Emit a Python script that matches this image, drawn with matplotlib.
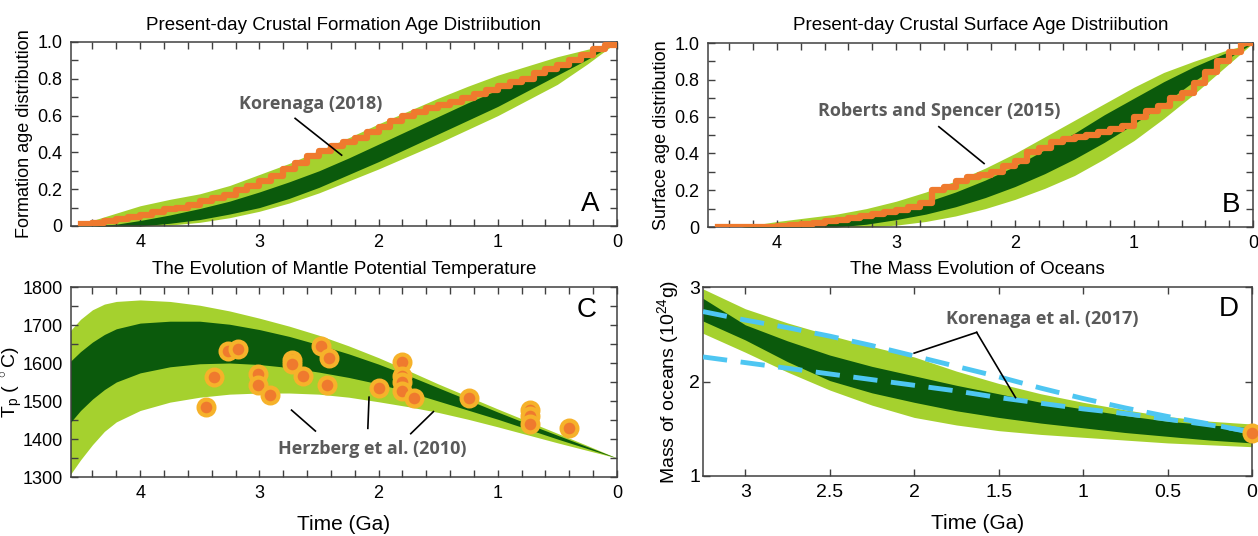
import numpy as np
import matplotlib
matplotlib.use("Agg")
import matplotlib.pyplot as plt
from matplotlib.ticker import MultipleLocator

plt.rcParams['font.family'] = ['Liberation Sans', 'DejaVu Sans']
plt.rcParams['mathtext.fontset'] = 'custom'
plt.rcParams['mathtext.rm'] = 'Liberation Sans'

LIGHT = "#a5d12e"
DARK = "#0b5a0c"
ORANGE = "#ef7a2e"
GOLD = "#f6b22a"
BLUE = "#4ec6f2"
NOTE = "#5a5a5a"

# ---- A: crustal formation age distribution
a_age = [4.55, 4.4, 4.2, 4.0, 3.75, 3.5, 3.25, 3.0, 2.75, 2.5, 2.25, 2.0, 1.75, 1.5, 1.25, 1.0, 0.75, 0.5, 0.25, 0.0]
a_light_hi = [0.0, 0.03, 0.07, 0.11, 0.145, 0.175, 0.22, 0.28, 0.34, 0.41, 0.48, 0.555, 0.625, 0.695, 0.76, 0.82, 0.87, 0.92, 0.96, 1.0]
a_light_lo = [0.0, 0.0, 0.0, 0.0, 0.005, 0.02, 0.045, 0.08, 0.125, 0.18, 0.245, 0.31, 0.38, 0.45, 0.525, 0.60, 0.685, 0.77, 0.88, 1.0]
a_dark_hi = [0.0, 0.0, 0.01, 0.03, 0.06, 0.095, 0.135, 0.185, 0.24, 0.30, 0.37, 0.445, 0.52, 0.595, 0.67, 0.74, 0.81, 0.875, 0.94, 1.0]
a_dark_lo = [0.0, 0.0, 0.0, 0.0, 0.015, 0.035, 0.065, 0.10, 0.15, 0.21, 0.28, 0.35, 0.425, 0.50, 0.575, 0.65, 0.735, 0.82, 0.905, 1.0]

a_step_age = [4.5, 4.4, 4.3, 4.2, 4.1, 4.0, 3.9, 3.8, 3.7, 3.6, 3.5, 3.4, 3.3, 3.2, 3.1, 3.0, 2.9, 2.8, 2.7, 2.6,
              2.5, 2.4, 2.3, 2.2, 2.1, 2.0, 1.9, 1.8, 1.7, 1.6, 1.5, 1.4, 1.3, 1.2, 1.1, 1.0, 0.9, 0.8, 0.7, 0.6,
              0.5, 0.4, 0.3, 0.2, 0.1, 0.0]
a_step_val = [0.01, 0.015, 0.025, 0.04, 0.05, 0.06, 0.075, 0.09, 0.10, 0.115, 0.135, 0.15, 0.17, 0.195, 0.22, 0.245, 0.27, 0.31, 0.34, 0.38,
              0.41, 0.435, 0.455, 0.48, 0.51, 0.54, 0.57, 0.60, 0.62, 0.64, 0.655, 0.675, 0.695, 0.715, 0.74, 0.76, 0.78, 0.80, 0.83, 0.855,
              0.875, 0.90, 0.93, 0.96, 0.985, 1.0]

# ---- B: crustal surface age distribution
b_age = [4.55, 4.3, 4.0, 3.75, 3.5, 3.25, 3.0, 2.75, 2.5, 2.25, 2.0, 1.75, 1.5, 1.25, 1.0, 0.75, 0.5, 0.25, 0.0]
b_light_hi = [0.0, 0.0, 0.03, 0.05, 0.07, 0.10, 0.14, 0.19, 0.25, 0.32, 0.40, 0.49, 0.58, 0.67, 0.76, 0.84, 0.90, 0.955, 1.0]
b_light_lo = [0.0, 0.0, 0.0, 0.0, 0.0, 0.0, 0.01, 0.03, 0.06, 0.10, 0.15, 0.21, 0.28, 0.37, 0.47, 0.59, 0.72, 0.86, 1.0]
b_dark_hi = [0.0, 0.0, 0.01, 0.02, 0.04, 0.06, 0.09, 0.135, 0.19, 0.255, 0.33, 0.42, 0.51, 0.61, 0.70, 0.79, 0.87, 0.94, 1.0]
b_dark_lo = [0.0, 0.0, 0.0, 0.0, 0.0, 0.015, 0.04, 0.07, 0.11, 0.16, 0.22, 0.29, 0.37, 0.46, 0.56, 0.67, 0.79, 0.90, 1.0]

b_step_age = a_step_age
b_step_val = [0.0, 0.0, 0.0, 0.0, 0.0, 0.005, 0.01, 0.015, 0.02, 0.03, 0.04, 0.05, 0.06, 0.07, 0.08, 0.09, 0.11, 0.13, 0.20, 0.22,
              0.25, 0.27, 0.285, 0.30, 0.33, 0.36, 0.41, 0.43, 0.46, 0.48, 0.49, 0.50, 0.515, 0.53, 0.55, 0.60, 0.63, 0.66, 0.70, 0.73,
              0.78, 0.84, 0.90, 0.95, 1.0, 1.0]

# ---- C: mantle potential temperature
c_age = [4.6, 4.5, 4.4, 4.3, 4.2, 4.0, 3.75, 3.5, 3.25, 3.0, 2.75, 2.5, 2.25, 2.0, 1.75, 1.5, 1.25, 1.0, 0.75, 0.5, 0.25, 0.0]
c_light_hi = [1680, 1715, 1740, 1755, 1762, 1766, 1762, 1752, 1737, 1718, 1697, 1673, 1645, 1614, 1580, 1545, 1512, 1479, 1447, 1415, 1383, 1350]
c_light_lo = [1300, 1345, 1385, 1420, 1445, 1475, 1497, 1510, 1518, 1521, 1521, 1518, 1510, 1498, 1485, 1470, 1452, 1432, 1411, 1390, 1370, 1350]
c_dark_hi = [1600, 1630, 1655, 1675, 1690, 1705, 1710, 1710, 1702, 1688, 1670, 1648, 1624, 1597, 1567, 1535, 1503, 1471, 1440, 1410, 1380, 1350]
c_dark_lo = [1438, 1475, 1505, 1530, 1550, 1574, 1590, 1598, 1600, 1596, 1588, 1576, 1562, 1545, 1524, 1500, 1476, 1452, 1426, 1400, 1375, 1350]

herz_age = [3.45, 3.38, 3.26, 3.18, 3.01, 3.01, 2.91, 2.73, 2.73, 2.63, 2.48, 2.42, 2.43, 2.00,
            1.80, 1.80, 1.80, 1.80, 1.70, 1.24, 0.73, 0.73, 0.73, 0.40]
herz_tp = [1485, 1563, 1632, 1636, 1570, 1541, 1517, 1609, 1598, 1565, 1645, 1614, 1543, 1535,
           1603, 1565, 1550, 1527, 1508, 1508, 1476, 1461, 1439, 1430]

# ---- D: mass of oceans
d_age = [3.25, 3.0, 2.75, 2.5, 2.25, 2.0, 1.75, 1.5, 1.25, 1.0, 0.75, 0.5, 0.25, 0.0]
d_light_hi = [2.98, 2.77, 2.62, 2.49, 2.37, 2.26, 2.11, 1.98, 1.87, 1.78, 1.70, 1.63, 1.58, 1.55]
d_light_lo = [2.51, 2.31, 2.10, 1.91, 1.75, 1.62, 1.54, 1.48, 1.44, 1.41, 1.38, 1.35, 1.33, 1.31]
d_dark_hi = [2.88, 2.60, 2.43, 2.28, 2.16, 2.06, 1.96, 1.87, 1.78, 1.71, 1.64, 1.58, 1.54, 1.51]
d_dark_lo = [2.64, 2.44, 2.21, 2.01, 1.88, 1.78, 1.69, 1.62, 1.56, 1.51, 1.46, 1.42, 1.38, 1.35]
kor_hi = [2.74, 2.65, 2.57, 2.48, 2.38, 2.27, 2.16, 2.05, 1.93, 1.82, 1.72, 1.63, 1.55, 1.46]
kor_lo = [2.26, 2.20, 2.14, 2.08, 2.02, 1.96, 1.90, 1.83, 1.77, 1.71, 1.66, 1.60, 1.54, 1.47]
d_now_age = [0.0]
d_now_mass = [1.46]


def style_axes(ax, size=13, pad=6):
    for s in ax.spines.values():
        s.set_color("#404040")
        s.set_linewidth(1.1)
    ax.tick_params(which="both", direction="in", top=True, right=True,
                   length=5, width=1.0, color="#404040", labelsize=size, pad=pad)
    ax.tick_params(which="major", labeltop=False, labelright=False)


def band(ax, x, lh, ll, dh, dl):
    ax.fill_between(x, ll, lh, color=LIGHT, lw=0, zorder=1)
    ax.fill_between(x, dl, dh, color=DARK, lw=0, zorder=2)


def note(ax, text, xy_text, lines):
    ax.text(xy_text[0], xy_text[1], text, color=NOTE, fontsize=13, fontweight="bold",
            family=["Open Sans", "DejaVu Sans"], ha="center", va="center", zorder=6)
    for (x0, y0), (x1, y1) in lines:
        ax.plot([x0, x1], [y0, y1], color="black", lw=1.2, zorder=6)


fig = plt.figure(figsize=(12.58, 5.36), dpi=100)
W, H = 1258, 536


def add_ax(l, t, r, b):
    return fig.add_axes([l / W, 1 - b / H, (r - l) / W, (b - t) / H])


axA = add_ax(71, 42, 617, 226)
axB = add_ax(708, 43, 1253, 227)
axC = add_ax(71, 287, 617, 477)
axD = add_ax(703, 287, 1252, 476)

# A
band(axA, a_age, a_light_hi, a_light_lo, a_dark_hi, a_dark_lo)
axA.step(a_step_age, a_step_val, where="post", color=ORANGE, lw=4.5, zorder=4)
axA.set_xlim(4.58, 0)
axA.set_ylim(0, 1.0)
axA.xaxis.set_major_locator(MultipleLocator(1))
axA.xaxis.set_minor_locator(MultipleLocator(0.2))
axA.yaxis.set_minor_locator(MultipleLocator(0.1))
axA.set_yticks([0, 0.2, 0.4, 0.6, 0.8, 1.0], ["0", "0.2", "0.4", "0.6", "0.8", "1.0"])
axA.set_ylabel("Formation age distribution", fontsize=13)
axA.yaxis.set_label_coords(-0.07, 0.5)
axA.set_title("Present-day Crustal Formation Age Distriibution", fontsize=13.5, pad=9)
axA.text(0.95, 0.12, "A", transform=axA.transAxes, fontsize=20, ha="center", va="center")
note(axA, "Korenaga (2018)", (2.57, 0.665), [((2.70, 0.585), (2.31, 0.385))])
style_axes(axA)

# B
band(axB, b_age, b_light_hi, b_light_lo, b_dark_hi, b_dark_lo)
axB.step(b_step_age, b_step_val, where="post", color=ORANGE, lw=4.5, zorder=4)
axB.set_xlim(4.58, 0)
axB.set_ylim(0, 1.0)
axB.xaxis.set_major_locator(MultipleLocator(1))
axB.xaxis.set_minor_locator(MultipleLocator(0.2))
axB.yaxis.set_minor_locator(MultipleLocator(0.1))
axB.set_yticks([0, 0.2, 0.4, 0.6, 0.8, 1.0], ["0", "0.2", "0.4", "0.6", "0.8", "1.0"])
axB.set_ylabel("Surface age distribution", fontsize=13)
axB.yaxis.set_label_coords(-0.07, 0.5)
axB.set_title("Present-day Crustal Surface Age Distriibution", fontsize=13.5, pad=9)
axB.text(0.96, 0.12, "B", transform=axB.transAxes, fontsize=20, ha="center", va="center")
note(axB, "Roberts and Spencer (2015)", (2.64, 0.63), [((2.64, 0.545), (2.26, 0.345))])
style_axes(axB)

# C
band(axC, c_age, c_light_hi, c_light_lo, c_dark_hi, c_dark_lo)
axC.scatter(herz_age, herz_tp, s=130, color=ORANGE, edgecolors=GOLD, linewidths=3, zorder=5)
axC.set_xlim(4.58, 0)
axC.set_ylim(1300, 1800)
axC.xaxis.set_major_locator(MultipleLocator(1))
axC.xaxis.set_minor_locator(MultipleLocator(0.2))
axC.yaxis.set_major_locator(MultipleLocator(100))
axC.yaxis.set_minor_locator(MultipleLocator(50))
axC.set_xticks([4, 3, 2, 1, 0], ["4", "3", "2", "1", "0"])
axC.set_ylabel(r"T$_\mathregular{p}$ ( $^\circ$C)", fontsize=14)
axC.yaxis.set_label_coords(-0.084, 0.5)
axC.set_xlabel("Time (Ga)", fontsize=15, labelpad=9)
axC.set_title("The Evolution of Mantle Potential Temperature", fontsize=13.5, pad=9)
axC.text(0.945, 0.88, "C", transform=axC.transAxes, fontsize=20, ha="center", va="center")
note(axC, "Herzberg et al. (2010)", (2.05, 1375),
     [((2.73, 1476), (2.53, 1421)), ((2.08, 1510), (2.09, 1428)), ((1.54, 1472), (1.73, 1414))])
style_axes(axC)

# D
band(axD, d_age, d_light_hi, d_light_lo, d_dark_hi, d_dark_lo)
axD.plot(d_age, kor_hi, color=BLUE, lw=3.5, dashes=(5, 2.8), zorder=4)
axD.plot(d_age, kor_lo, color=BLUE, lw=3.5, dashes=(5, 2.8), zorder=4)
axD.scatter(d_now_age, d_now_mass, s=130, color=ORANGE, edgecolors=GOLD, linewidths=3, zorder=7, clip_on=False)
axD.set_xlim(3.25, 0)
axD.set_ylim(1, 3)
axD.set_xticks([3, 2.5, 2, 1.5, 1, 0.5, 0], ["3", "2.5", "2", "1.5", "1", "0.5", "0"])
axD.set_yticks([1, 2, 3], ["1", "2", "3"])
axD.set_ylabel(r"Mass of oceans (10$^{24}$g)", fontsize=14)
axD.yaxis.set_label_coords(-0.038, 0.5)
axD.set_xlabel("Time (Ga)", fontsize=15, labelpad=9)
axD.set_title("The Mass Evolution of Oceans", fontsize=13.5, pad=9)
axD.text(0.958, 0.885, "D", transform=axD.transAxes, fontsize=20, ha="center", va="center")
note(axD, "Korenaga et al. (2017)", (1.24, 2.66), [((1.63, 2.52), (2.0, 2.30)), ((1.63, 2.52), (1.40, 1.83))])
style_axes(axD, size=14, pad=2)
axD.tick_params(axis="x", pad=6)

fig.savefig("out.png", dpi=100)
